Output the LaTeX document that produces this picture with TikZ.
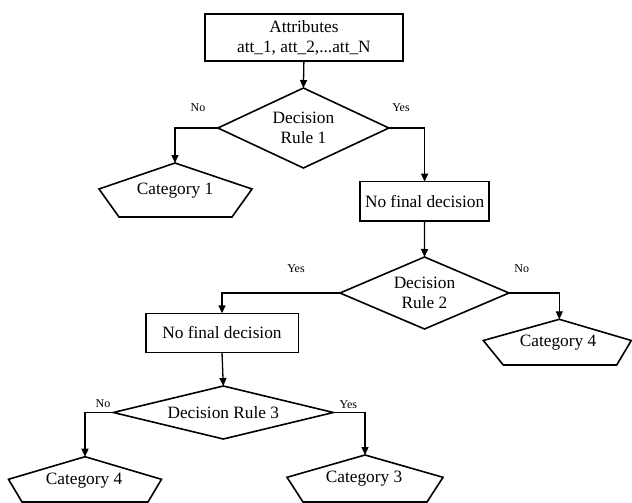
\documentclass[tikz,border=0pt]{standalone}
\usepackage{fontspec}
\setmainfont{Liberation Serif}
\usetikzlibrary{shapes.geometric,arrows.meta,calc}
\newcommand\mainfnt{\fontsize{17.3}{20}\selectfont}
\newcommand\lblfnt{\fontsize{12}{14}\selectfont}
\begin{document}
\begin{tikzpicture}[x=1pt,y=-1pt,
  box/.style={draw, line width=1.6pt, inner sep=0pt, outer sep=0pt, align=center, font=\mainfnt},
  dec/.style={diamond, draw, line width=1.6pt, inner sep=0pt, outer sep=0pt, align=center, font=\mainfnt},
  lbl/.style={font=\lblfnt, inner sep=0pt},
  cat/.style={font=\mainfnt, inner sep=0pt},
  pent/.style={draw, line width=1.6pt, line join=miter},
  arr/.style={line width=1.3pt, -{Triangle[length=8pt,width=7pt]}}]
\useasboundingbox (0,0) rectangle (632,503);

% boxes
\node[box, minimum width=197.7pt, minimum height=46.7pt] (attr) at (303.9,37.4) {Attributes\\att\_1, att\_2,...att\_N};
\node[box, minimum width=129.3pt, minimum height=39.3pt] (nfd1) at (424.6,201.3) {No final decision};
\node[box, minimum width=152.6pt, minimum height=39pt] (nfd2) at (222,332.8) {No final decision};

% diamonds
\node[dec, shape aspect=2.14, minimum width=171pt, minimum height=80pt] (d1) at (303.4,128) {Decision\\Rule 1};
\node[dec, shape aspect=2.35, minimum width=169pt, minimum height=72pt] (d2) at (424.5,293) {Decision\\Rule 2};
\node[dec, shape aspect=4.15, minimum width=220pt, minimum height=53pt] (d3) at (223.3,412.5) {Decision Rule 3};

% pentagons
\coordinate (c1top) at (175,163);
\draw[pent] (c1top) -- ++(77,26) -- ++(-20,28) -- ++(-113,0) -- ++(-20,-28) -- cycle;
\node[cat] (c1) at (175,191) {Category 1};

\coordinate (c4rtop) at (559.3,319.3);
\draw[pent] (c4rtop) -- ++(72,21.2) -- ++(-14.6,24.5) -- ++(-113.4,0) -- ++(-20,-24.5) -- cycle;
\node[cat] (c4r) at (558,342.7) {Category 4};

\coordinate (c4ltop) at (85,456.7);
\draw[pent] (c4ltop) -- ++(76.5,22.6) -- ++(-13.5,22.7) -- ++(-126,0) -- ++(-13.5,-22.7) -- cycle;
\node[cat] (c4l) at (84,480.5) {Category 4};

\coordinate (c3top) at (365,455);
\draw[pent] (c3top) -- ++(78,22.3) -- ++(-16,24.7) -- ++(-124,0) -- ++(-16,-24.7) -- cycle;
\node[cat] (c3) at (364,479) {Category 3};

% connectors
\draw[arr] (attr.south) -- (d1.north);
\draw[arr] (d1.west) -| (c1top);
\draw[arr] (d1.east) -| (nfd1.north);
\draw[arr] (nfd1.south) -- (d2.north);
\draw[arr] (d2.west) -| (nfd2.north);
\draw[arr] (d2.east) -| (c4rtop);
\draw[arr] (nfd2.south) -- (d3.north);
\draw[arr] (d3.west) -| (c4ltop);
\draw[arr] (d3.east) -| (c3top);

% labels
\node[lbl] (l1) at (198,108) {No};
\node[lbl] (l2) at (401,108) {Yes};
\node[lbl] (l3) at (296,269) {Yes};
\node[lbl] (l4) at (521.7,269) {No};
\node[lbl] (l5) at (103,404) {No};
\node[lbl] (l6) at (348.3,404.3) {Yes};
\end{tikzpicture}
\end{document}
